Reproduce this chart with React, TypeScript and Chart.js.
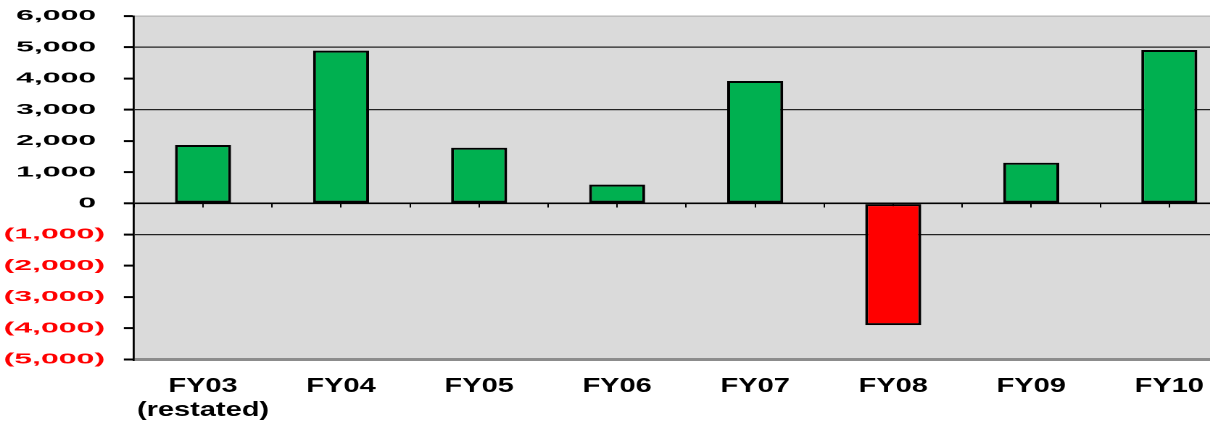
import { useEffect, useRef } from "react";
import { Chart, registerables } from "chart.js";

Chart.register(...registerables);

// ---- data ----
const categories: (string | string[])[] = [
  ["FY03", "(restated)"],
  "FY04",
  "FY05",
  "FY06",
  "FY07",
  "FY08",
  "FY09",
  "FY10",
];
const values: number[] = [1870, 4890, 1780, 600, 3920, -3900, 1300, 4910];

const yMin = -5000;
const yMax = 6000;
const yStep = 1000;
const darkGridValues: number[] = [5000, 3000, -1000];

// ---- style ----
const GREEN = "#00b050";
const RED = "#ff0000";
const PLOT_BG = "#dadada";
const SX = 1.45; // horizontal stretch of the reference
const Y_LABEL_SX = 1.47; // extra horizontal stretch of the y tick labels
const W = 854;
const H = 423;
const VISIBLE_W = 1210;
const PLOT_LEFT = 134 / SX;
const PLOT_TOP = 16;
const PLOT_BOTTOM = 359.5;
const Y_TICK_LEN = 7;
const Y_TICK_PAD = 13;

function fmt(v: number): string {
  const a = Math.abs(v).toLocaleString("en-US");
  return v < 0 ? `(${a})` : `${a} `;
}

function noPad(s: any) {
  s.paddingTop = 0;
  s.paddingBottom = 0;
  s.paddingLeft = 0;
  s.paddingRight = 0;
}

const plotBg = {
  id: "plotBg",
  beforeDraw(chart: any) {
    const { ctx, chartArea } = chart;
    if (!chartArea) return;
    ctx.save();
    ctx.fillStyle = PLOT_BG;
    ctx.fillRect(chartArea.left, chartArea.top, chartArea.right - chartArea.left, chartArea.bottom - chartArea.top);
    ctx.restore();
  },
};

export default function App() {
  const ref = useRef<HTMLCanvasElement | null>(null);

  useEffect(() => {
    if (!ref.current) return;
    const catW = (W - PLOT_LEFT) / categories.length;
    const barPct = 56 / SX / catW;

    const tickAxis = (offset: boolean) => ({
      type: "category",
      position: { y: 0 },
      offset: true,
      ticks: { display: false },
      grid: {
        drawOnChartArea: false,
        drawTicks: true,
        tickLength: 4,
        tickColor: "#000",
        tickWidth: 1,
        offset,
      },
      border: { display: false },
      afterFit: (s: any) => {
        noPad(s);
        s.height = 0;
      },
    });

    const chart = new Chart(ref.current, {
      type: "bar",
      data: {
        labels: categories,
        datasets: [
          {
            data: values,
            backgroundColor: values.map((v) => (v < 0 ? RED : GREEN)),
            borderColor: "#000",
            borderWidth: 2,
            borderSkipped: false,
            barPercentage: barPct,
            categoryPercentage: 1,
            xAxisID: "x",
            yAxisID: "y",
          },
        ],
      },
      options: {
        responsive: false,
        animation: false,
        devicePixelRatio: 2,
        layout: { padding: { top: PLOT_TOP, left: 0, right: 0, bottom: 0 } },
        plugins: {
          legend: { display: false },
          tooltip: { enabled: false },
        },
        scales: {
          x: {
            type: "category",
            position: "bottom",
            offset: true,
            grid: { display: false, drawTicks: false },
            border: { display: false },
            ticks: {
              color: "#000",
              font: { family: "'Liberation Sans', Arial, sans-serif", size: 20, weight: "bold", lineHeight: 1.2 },
              padding: 15,
              maxRotation: 0,
              autoSkip: false,
            },
            afterFit: (s: any) => {
              noPad(s);
              s.height = H - PLOT_BOTTOM;
            },
          },
          x2: tickAxis(true),
          x3: tickAxis(false),
          y: {
            type: "linear",
            min: yMin,
            max: yMax,
            ticks: {
              stepSize: yStep,
              callback: (v: any) => fmt(Number(v)),
              color: (c: any) => (c.tick && c.tick.value < 0 ? RED : "#000"),
              font: { family: "'Liberation Sans', Arial, sans-serif", size: 15, weight: "bold" },
              padding: Y_TICK_PAD,
            },
            grid: {
              color: (c: any) => {
                const v = c.tick ? c.tick.value : NaN;
                if (v === 0) return "#000";
                if (v === yMin) return "#8c8c8c";
                if (v === yMax) return "#b4b4b4";
                if (darkGridValues.includes(v)) return "#222";
                return "rgba(0,0,0,0)";
              },
              lineWidth: (c: any) => {
                const v = c.tick ? c.tick.value : NaN;
                if (v === 0) return 1.6;
                if (v === yMin) return 3;
                return 1.2;
              },
              tickLength: Y_TICK_LEN,
              tickColor: "#000",
              tickWidth: 2,
            },
            border: { display: true, color: "#000", width: 1.4 },
            afterFit: (s: any) => {
              noPad(s);
              s.width = PLOT_LEFT;
              if (!s.__wideLabels) {
                s.__wideLabels = true;
                const orig = s.drawLabels;
                s.drawLabels = function (area: any) {
                  const ctx = this.ctx;
                  const ax = this.right - Y_TICK_LEN - Y_TICK_PAD;
                  ctx.save();
                  ctx.translate(ax, 0);
                  ctx.scale(Y_LABEL_SX, 1);
                  ctx.translate(-ax, 0);
                  orig.call(this, area);
                  ctx.restore();
                };
              }
            },
          },
        },
      },
      plugins: [plotBg],
    } as any);

    return () => chart.destroy();
  }, []);

  return (
    <div
      style={{
        position: "fixed",
        left: 0,
        top: 0,
        width: VISIBLE_W,
        height: H,
        overflow: "hidden",
        background: "#fff",
      }}
    >
      <div style={{ transform: `scaleX(${SX})`, transformOrigin: "0 0", width: W, height: H }}>
        <canvas ref={ref} width={W} height={H} />
      </div>
    </div>
  );
}
